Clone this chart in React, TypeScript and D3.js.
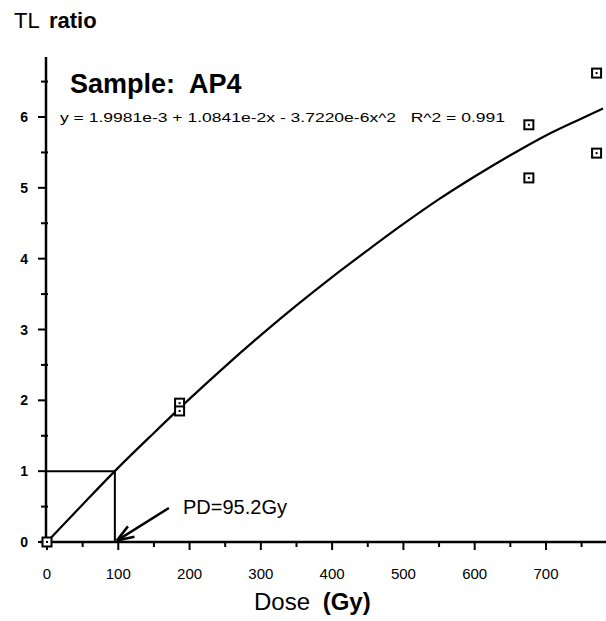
import React from 'react';
import * as d3 from 'd3';

// fitted curve
const curveDose = [0, 50, 100, 150, 200, 250, 300, 350, 400, 450, 500, 550, 600, 650, 700, 750, 780];
const curveTL = [0.0, 0.53, 1.05, 1.54, 2.02, 2.48, 2.92, 3.34, 3.74, 4.12, 4.49, 4.84, 5.16, 5.46, 5.74, 5.98, 6.12];

// measured samples
const sampleDose = [0, 186, 186, 676, 676, 771, 771];
const sampleTL = [0, 1.96, 1.85, 5.89, 5.14, 6.62, 5.49];

const xTicks = [0, 100, 200, 300, 400, 500, 600, 700];
const yTicks = [0, 1, 2, 3, 4, 5, 6];
const pdDose = 95.2;

const W = 606, H = 621;
const font = "'Liberation Sans', Arial, sans-serif";

export default function App() {
  const x = d3.scaleLinear().domain([0, 780]).range([47, 603]);
  const y = d3.scaleLinear().domain([0, 6]).range([542, 117]);

  const line = d3.line<number>()
    .x((d, i) => x(curveDose[i]))
    .y(d => y(d))
    .curve(d3.curveMonotoneX);

  const xMinor = d3.range(50, 800, 100);
  const yMinor = d3.range(0.5, 6.8, 1);

  // arrow from label down to PD
  const ax0 = x(171), ay0 = y(0.48);
  const ax1 = x(pdDose) + 2, ay1 = y(0.02);
  const ang = Math.atan2(ay1 - ay0, ax1 - ax0);
  const head = (da: number) =>
    `M${ax1},${ay1}L${ax1 - 18 * Math.cos(ang + da)},${ay1 - 18 * Math.sin(ang + da)}`;

  return (
    <svg width={W} height={H} style={{ position: 'absolute', left: 0, top: 0, background: '#fff' }}
         fontFamily={font}>
      <text x={14} y={28} fontSize={22}>
        TL <tspan fontWeight="bold" dx={4}>ratio</tspan>
      </text>

      {/* axes */}
      <line x1={46} x2={46} y1={57} y2={546} stroke="#000" strokeWidth={2.5} />
      <line x1={40} x2={606} y1={y(0)} y2={y(0)} stroke="#000" strokeWidth={2.5} />

      {yTicks.map(t => (
        <g key={'y' + t}>
          <line x1={38} x2={46} y1={y(t)} y2={y(t)} stroke="#000" strokeWidth={2} />
          <text x={28} y={y(t) + 5} fontSize={14} fontWeight="bold" textAnchor="end">{t}</text>
        </g>
      ))}
      {yMinor.map(t => (
        <line key={'ym' + t} x1={41} x2={48} y1={y(t)} y2={y(t)} stroke="#000" strokeWidth={2} />
      ))}
      {xTicks.map(t => (
        <g key={'x' + t}>
          <line x1={x(t)} x2={x(t)} y1={y(0)} y2={y(0) + 8} stroke="#000" strokeWidth={2} />
          <text x={x(t)} y={y(0) + 37} fontSize={15} textAnchor="middle">{t}</text>
        </g>
      ))}
      {xMinor.map(t => (
        <line key={'xm' + t} x1={x(t)} x2={x(t)} y1={y(0)} y2={y(0) + 5} stroke="#000" strokeWidth={2} />
      ))}

      <text x={x(0) + 23} y={93} fontSize={27} fontWeight="bold" style={{ whiteSpace: 'pre' }}>
        Sample:  AP4
      </text>
      <text x={60} y={122} fontSize={13} textLength={445} lengthAdjust="spacingAndGlyphs"
            style={{ whiteSpace: 'pre' }}>
        y = 1.9981e-3 + 1.0841e-2x - 3.7220e-6x^2   R^2 = 0.991
      </text>

      {/* PD construction lines */}
      <line x1={46} x2={x(pdDose)} y1={y(1)} y2={y(1)} stroke="#000" strokeWidth={2} />
      <line x1={x(pdDose)} x2={x(pdDose)} y1={y(1)} y2={y(0)} stroke="#000" strokeWidth={2} />

      <path d={line(curveTL) || ''} fill="none" stroke="#000" strokeWidth={2.2} />

      {sampleDose.map((d, i) => (
        <g key={'s' + i}>
          <rect x={x(d) - 4.5} y={y(sampleTL[i]) - 4.5} width={9} height={9}
                fill="#fff" stroke="#000" strokeWidth={2} />
          <rect x={x(d) - 1} y={y(sampleTL[i]) - 1} width={2} height={2} fill="#000" />
        </g>
      ))}

      <path d={`M${ax0},${ay0}L${ax1},${ay1}`} stroke="#000" strokeWidth={2.5} fill="none" />
      <path d={head(0.35)} stroke="#000" strokeWidth={2.5} fill="none" />
      <path d={head(-0.35)} stroke="#000" strokeWidth={2.5} fill="none" />
      <text x={183} y={514} fontSize={20}>PD=95.2Gy</text>

      <text x={254} y={610} fontSize={24}>
        Dose <tspan fontWeight="bold" dx={6}>(Gy)</tspan>
      </text>
    </svg>
  );
}
